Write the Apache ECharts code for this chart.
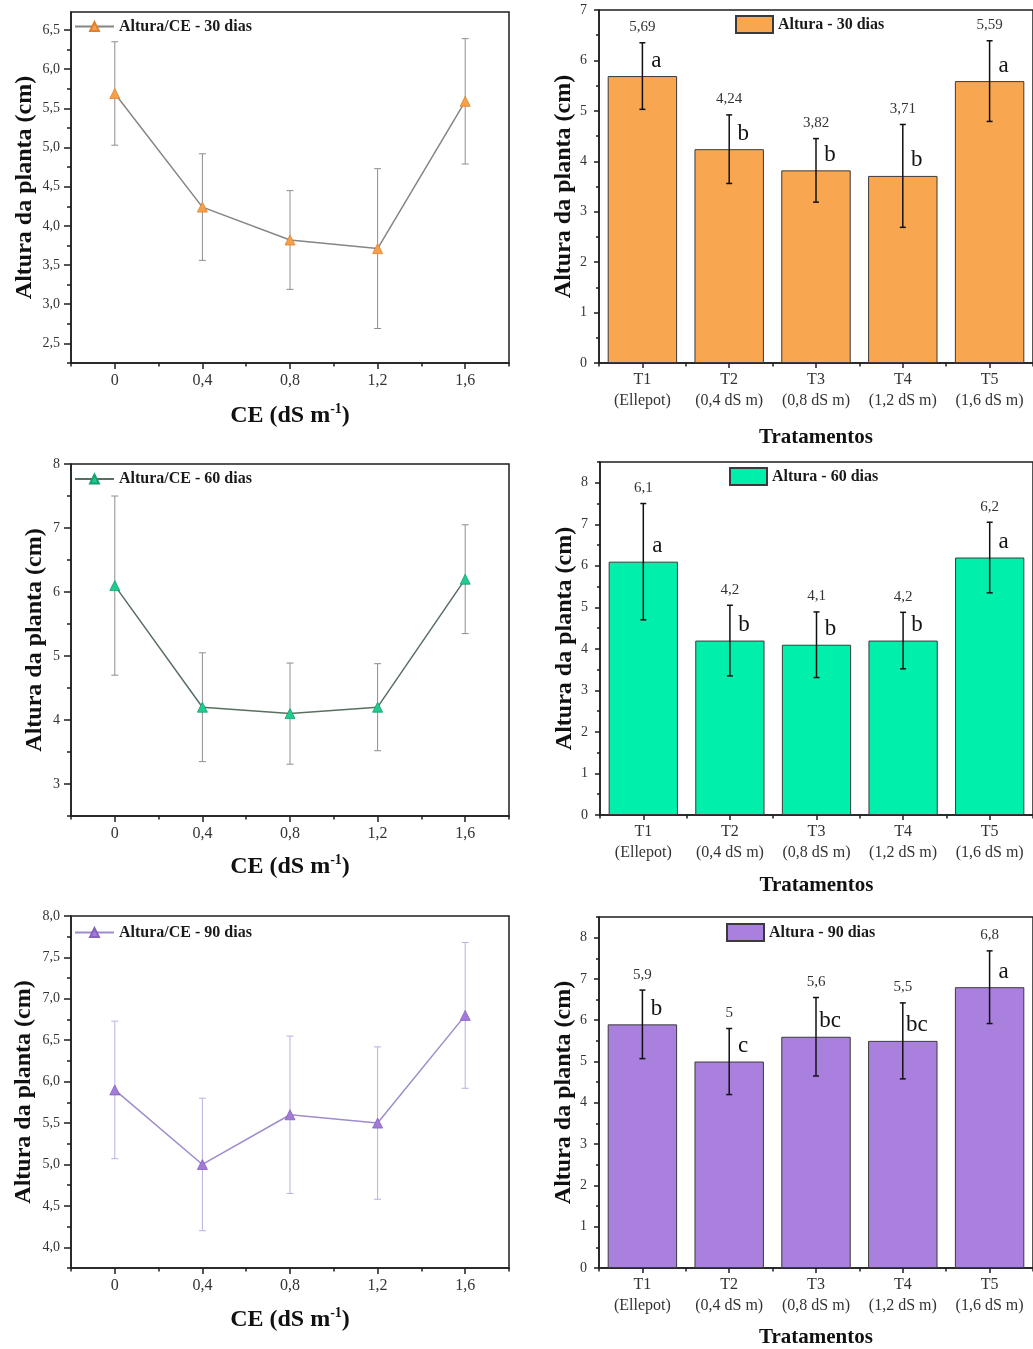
<!DOCTYPE html>
<html>
<head>
<meta charset="utf-8">
<script src="https://cdn.jsdelivr.net/npm/echarts@6/dist/echarts.min.js"></script>
<style>
  html, body { margin: 0; padding: 0; background: #fff; overflow: hidden; }
  #chart { width: 1033px; height: 1349px; }
</style>
</head>
<body>
<div id="chart"></div>
<script>
// Plant height (cm) by electrical conductivity of the irrigation water, at 30, 60 and 90 days
const ceValues = [0, 0.4, 0.8, 1.2, 1.6];
const ceTicks = [0, 0.4, 0.8, 1.2, 1.6];
const treatments = ['T1\n(Ellepot)', 'T2\n(0,4 dS m)', 'T3\n(0,8 dS m)', 'T4\n(1,2 dS m)', 'T5\n(1,6 dS m)'];

const height30 = [5.69, 4.24, 3.82, 3.71, 5.59];
const sd30 = [0.66, 0.68, 0.63, 1.02, 0.80];
const letters30 = ['a', 'b', 'b', 'b', 'a'];

const height60 = [6.1, 4.2, 4.1, 4.2, 6.2];
const sd60 = [1.40, 0.85, 0.79, 0.68, 0.85];
const letters60 = ['a', 'b', 'b', 'b', 'a'];

const height90 = [5.9, 5.0, 5.6, 5.5, 6.8];
const sd90 = [0.83, 0.80, 0.95, 0.92, 0.88];
const letters90 = ['b', 'c', 'bc', 'bc', 'a'];

const lineTicks30 = [2.5, 3, 3.5, 4, 4.5, 5, 5.5, 6, 6.5];
const lineTicks60 = [3, 4, 5, 6, 7, 8];
const lineTicks90 = [4, 4.5, 5, 5.5, 6, 6.5, 7, 7.5, 8];
const barTicks30 = [0, 1, 2, 3, 4, 5, 6, 7];
const barTicks60 = [0, 1, 2, 3, 4, 5, 6, 7, 8];
const barTicks90 = [0, 1, 2, 3, 4, 5, 6, 7, 8];

const SERIF = '"Liberation Serif", "Times New Roman", serif';
const AXIS = '#1e1e1e';

const commaNum = v => String(+v.toFixed(4)).replace('.', ',');
const oneDec = v => v.toFixed(1).replace('.', ',');

// half-step ticks between (and just outside) the labelled ticks
function minorTicks(ticks, lo, hi) {
  const half = (ticks[1] - ticks[0]) / 2;
  const out = [];
  for (let v = ticks[0] - half; v >= lo - 1e-6; v -= 2 * half) out.push(+v.toFixed(4));
  for (let v = ticks[0] + half; v <= hi + 1e-6; v += 2 * half) out.push(+v.toFixed(4));
  return out;
}

const grids = [], xAxes = [], yAxes = [], series = [], legends = [];

function axisLineStyle() { return { show: true, onZero: false, lineStyle: { color: AXIS, width: 1.5 } }; }
const hiddenLine = { show: false, onZero: false };

function addGrid(box) {
  grids.push({ left: box.left, top: box.top, width: box.width, height: box.height,
    show: true, borderColor: AXIS, borderWidth: 1.5, backgroundColor: 'transparent' });
  return grids.length - 1;
}

function linePanel(p) {
  const g = addGrid(p.box);
  const xi = xAxes.length, yi = yAxes.length;
  xAxes.push({
    type: 'value', gridIndex: g, position: 'bottom', min: -0.2, max: 1.8,
    axisLine: axisLineStyle(),
    axisTick: { show: true, customValues: ceTicks, length: 6, lineStyle: { color: AXIS, width: 1.5 } },
    axisLabel: { customValues: ceTicks, formatter: commaNum, fontFamily: SERIF, fontSize: 16, color: '#333', margin: 10 },
    splitLine: { show: false },
    name: '{b|CE (dS m}{s|-1}{b|)}', nameLocation: 'middle', nameGap: p.xNameGap,
    nameTextStyle: { rich: {
      b: { fontFamily: SERIF, fontWeight: 'bold', fontSize: 24, color: '#111', lineHeight: 28 },
      s: { fontFamily: SERIF, fontWeight: 'bold', fontSize: 14, color: '#111', lineHeight: 15, verticalAlign: 'top' }
    } }
  });
  xAxes.push({
    type: 'value', gridIndex: g, position: 'bottom', min: -0.2, max: 1.8,
    axisLine: hiddenLine,
    axisTick: { show: true, customValues: minorTicks(ceTicks, -0.2, 1.8), length: 3.5, lineStyle: { color: AXIS, width: 1.5 } },
    axisLabel: { show: false }, splitLine: { show: false }
  });
  yAxes.push({
    type: 'value', gridIndex: g, position: 'left', min: p.yMin, max: p.yMax,
    axisLine: axisLineStyle(),
    axisTick: { show: true, customValues: p.ticks, length: 7, lineStyle: { color: AXIS, width: 1.5 } },
    axisLabel: { customValues: p.ticks, formatter: p.fmt, fontFamily: SERIF, fontSize: 14, color: '#333', margin: 11 },
    splitLine: { show: false },
    name: 'Altura da planta (cm)', nameLocation: 'middle', nameRotate: 90, nameGap: p.yNameGap,
    nameTextStyle: { fontFamily: SERIF, fontWeight: 'bold', fontSize: 24, color: '#111' }
  });
  yAxes.push({
    type: 'value', gridIndex: g, position: 'left', min: p.yMin, max: p.yMax,
    axisLine: hiddenLine,
    axisTick: { show: true, customValues: minorTicks(p.ticks, p.yMin, p.yMax), length: 4, lineStyle: { color: AXIS, width: 1.5 } },
    axisLabel: { show: false }, splitLine: { show: false }
  });
  const h = p.values, sd = p.sd;
  series.push({
    type: 'custom', name: p.name + ' (dp)', xAxisIndex: xi, yAxisIndex: yi, z: 2,
    data: ceValues.map((x, i) => [x, h[i] - sd[i], h[i] + sd[i]]),
    encode: { x: 0, y: [1, 2] },
    renderItem(params, api) {
      const lo = api.coord([api.value(0), api.value(1)]);
      const hi = api.coord([api.value(0), api.value(2)]);
      const w = 3.5, st = { stroke: p.errColor, lineWidth: 1 };
      return { type: 'group', children: [
        { type: 'line', shape: { x1: lo[0], y1: lo[1], x2: hi[0], y2: hi[1] }, style: st },
        { type: 'line', shape: { x1: hi[0] - w, y1: hi[1], x2: hi[0] + w, y2: hi[1] }, style: st },
        { type: 'line', shape: { x1: lo[0] - w, y1: lo[1], x2: lo[0] + w, y2: lo[1] }, style: st }
      ] };
    }
  });
  series.push({
    type: 'line', name: p.name, xAxisIndex: xi, yAxisIndex: yi, z: 3,
    data: ceValues.map((x, i) => [x, h[i]]),
    symbol: 'triangle', symbolSize: 10,
    lineStyle: { color: p.lineColor, width: 1.5 },
    itemStyle: { color: p.markColor, borderColor: p.markBorder, borderWidth: 0.8 }
  });
  legends.push({
    data: [p.name], left: p.legend[0], top: p.legend[1], padding: 0,
    itemWidth: 39, itemHeight: 11, selectedMode: false,
    textStyle: { fontFamily: SERIF, fontWeight: 'bold', fontSize: 16, color: '#1a1a1a' }
  });
}

function barPanel(p) {
  const g = addGrid(p.box);
  const xi = xAxes.length, yi = yAxes.length;
  xAxes.push({
    type: 'category', gridIndex: g, position: 'bottom', data: treatments,
    axisLine: axisLineStyle(),
    axisTick: { show: true, alignWithLabel: true, interval: 0, length: 5, lineStyle: { color: AXIS, width: 1.5 } },
    axisLabel: { interval: 0, fontFamily: SERIF, fontSize: 16, color: '#333', lineHeight: 21, margin: 6 },
    name: 'Tratamentos', nameLocation: 'middle', nameGap: p.xNameGap,
    nameTextStyle: { fontFamily: SERIF, fontWeight: 'bold', fontSize: 21, color: '#111' }
  });
  xAxes.push({
    type: 'category', gridIndex: g, position: 'bottom', data: treatments,
    axisLine: hiddenLine,
    axisTick: { show: true, interval: 0, length: 3.5, lineStyle: { color: AXIS, width: 1.5 } },
    axisLabel: { show: false, interval: 0 }
  });
  yAxes.push({
    type: 'value', gridIndex: g, position: 'left', min: 0, max: p.yMax,
    axisLine: axisLineStyle(),
    axisTick: { show: true, customValues: p.ticks, length: 5, lineStyle: { color: AXIS, width: 1.5 } },
    axisLabel: { customValues: p.ticks, formatter: v => String(v), fontFamily: SERIF, fontSize: 14, color: '#333', margin: 12 },
    splitLine: { show: false },
    name: 'Altura da planta (cm)', nameLocation: 'middle', nameRotate: 90, nameGap: p.yNameGap,
    nameTextStyle: { fontFamily: SERIF, fontWeight: 'bold', fontSize: 24, color: '#111' }
  });
  yAxes.push({
    type: 'value', gridIndex: g, position: 'left', min: 0, max: p.yMax,
    axisLine: hiddenLine,
    axisTick: { show: true, customValues: minorTicks(p.ticks, 0, p.yMax), length: 3, lineStyle: { color: AXIS, width: 1.5 } },
    axisLabel: { show: false }, splitLine: { show: false }
  });
  const h = p.values, sd = p.sd, letters = p.letters;
  series.push({
    type: 'bar', name: p.name, xAxisIndex: xi, yAxisIndex: yi, z: 2,
    data: h, barWidth: '80%',
    itemStyle: { color: p.color, borderColor: '#3a3a3a', borderWidth: 1 },
    label: {
      show: true, position: 'top', distance: 4, offset: [14, 0],
      formatter: params => letters[params.dataIndex],
      fontFamily: SERIF, fontSize: 23, color: '#141414'
    }
  });
  series.push({
    type: 'custom', name: p.name + ' (dp)', xAxisIndex: xi, yAxisIndex: yi, z: 3,
    data: h.map((v, i) => [i, v - sd[i], v + sd[i], v]),
    encode: { x: 0, y: [1, 2] },
    renderItem(params, api) {
      const lo = api.coord([api.value(0), api.value(1)]);
      const hi = api.coord([api.value(0), api.value(2)]);
      const w = 3, st = { stroke: '#111', lineWidth: 1.5 };
      return { type: 'group', children: [
        { type: 'line', shape: { x1: lo[0], y1: lo[1], x2: hi[0], y2: hi[1] }, style: st },
        { type: 'line', shape: { x1: hi[0] - w, y1: hi[1], x2: hi[0] + w, y2: hi[1] }, style: st },
        { type: 'line', shape: { x1: lo[0] - w, y1: lo[1], x2: lo[0] + w, y2: lo[1] }, style: st },
        { type: 'text', x: hi[0], y: hi[1] - 8,
          style: { text: commaNum(api.value(3)), textAlign: 'center', textVerticalAlign: 'bottom',
                   fontFamily: SERIF, fontSize: 15, fill: '#333' } }
      ] };
    }
  });
  legends.push({
    data: [p.name], left: p.legend[0], top: p.legend[1], padding: 0,
    itemWidth: 37, itemHeight: 17, icon: 'rect', selectedMode: false,
    textStyle: { fontFamily: SERIF, fontWeight: 'bold', fontSize: 16, color: '#1a1a1a' }
  });
}

linePanel({
  box: { left: 71, top: 12, width: 438, height: 351 }, yMin: 2.25, yMax: 6.73,
  ticks: lineTicks30, fmt: oneDec, values: height30, sd: sd30,
  name: 'Altura/CE - 30 dias', lineColor: '#858585', markColor: '#F7A049', markBorder: '#E0802C',
  errColor: '#8e8e8e', legend: [74, 18.5], xNameGap: 39, yNameGap: 34
});
barPanel({
  box: { left: 599, top: 10, width: 438, height: 353 }, yMax: 7,
  ticks: barTicks30, values: height30, sd: sd30, letters: letters30,
  name: 'Altura - 30 dias', color: '#F9A650', legend: [735, 15], xNameGap: 64, yNameGap: 23
});
linePanel({
  box: { left: 71, top: 464, width: 438, height: 352 }, yMin: 2.5, yMax: 8,
  ticks: lineTicks60, fmt: v => String(v), values: height60, sd: sd60,
  name: 'Altura/CE - 60 dias', lineColor: '#58705f', markColor: '#1FCB8F', markBorder: '#12A070',
  errColor: '#8e8e8e', legend: [74, 471], xNameGap: 37, yNameGap: 24
});
barPanel({
  box: { left: 600, top: 462, width: 437, height: 353 }, yMax: 8.5,
  ticks: barTicks60, values: height60, sd: sd60, letters: letters60,
  name: 'Altura - 60 dias', color: '#00EFAA', legend: [729, 467], xNameGap: 60, yNameGap: 23
});
linePanel({
  box: { left: 71, top: 916, width: 438, height: 352 }, yMin: 3.75, yMax: 8,
  ticks: lineTicks90, fmt: oneDec, values: height90, sd: sd90,
  name: 'Altura/CE - 90 dias', lineColor: '#9f8ccc', markColor: '#A27BD9', markBorder: '#8560C0',
  errColor: '#bcaee0', legend: [74, 924.5], xNameGap: 38, yNameGap: 35
});
barPanel({
  box: { left: 599, top: 917, width: 438, height: 352 }, yMax: 8.5,
  ticks: barTicks90, values: height90, sd: sd90, letters: letters90,
  name: 'Altura - 90 dias', color: '#A980DD', legend: [726, 923], xNameGap: 59, yNameGap: 23
});

const chart = echarts.init(document.getElementById('chart'), null, { renderer: 'canvas' });
chart.setOption({
  animation: false,
  backgroundColor: '#ffffff',
  grid: grids, xAxis: xAxes, yAxis: yAxes, legend: legends, series: series
});
</script>
</body>
</html>
